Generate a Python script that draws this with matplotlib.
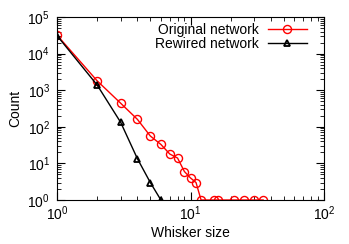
import matplotlib
matplotlib.use('Agg')
import matplotlib.pyplot as plt
from matplotlib.ticker import LogLocator, LogFormatterMathtext, NullFormatter

plt.rcParams['font.family'] = ['Liberation Sans', 'DejaVu Sans']
plt.rcParams['mathtext.fontset'] = 'custom'
plt.rcParams['mathtext.rm'] = 'Liberation Sans'
plt.rcParams['mathtext.it'] = 'Liberation Sans'

# whisker size -> count
orig_x = [1, 2, 3, 4, 5, 6, 7, 8, 9, 10, 11, 12, 15, 16, 21, 25, 30, 35]
orig_y = [32000, 1800, 440, 160, 56, 33, 18, 14, 6, 4, 3, 1, 1, 1, 1, 1, 1, 1]
rew_x = [1, 2, 3, 4, 5, 6]
rew_y = [31000, 1380, 132, 13.5, 3, 1]

fig = plt.figure(figsize=(3.49, 2.44), dpi=100)
ax = fig.add_axes([57/349, 44/244, 267/349, 183/244])

ax.plot(orig_x, orig_y, color='red', lw=1, marker='o', ms=5.8, mfc='none',
        mec='red', mew=1, label='Original network')
ax.plot(rew_x, rew_y, color='black', lw=1, marker='^', ms=5, mfc='none',
        mec='black', mew=1.3, label='Rewired network')

ax.set_xscale('log')
ax.set_yscale('log')
ax.set_xlim(1, 100)
ax.set_ylim(1, 1e5)
ax.xaxis.set_major_formatter(LogFormatterMathtext())
ax.yaxis.set_major_formatter(LogFormatterMathtext())
ax.yaxis.set_major_locator(LogLocator(base=10, numticks=10))
ax.yaxis.set_minor_locator(LogLocator(base=10, subs=range(2, 10), numticks=10))
ax.yaxis.set_minor_formatter(NullFormatter())
ax.tick_params(which='both', direction='in', top=True, right=True, labelsize=10)
ax.tick_params(which='major', length=6)
ax.tick_params(which='minor', length=3)
ax.tick_params(axis='x', which='major', pad=3)
ax.tick_params(axis='y', which='major', pad=5)

ax.set_xlabel('Whisker size', fontsize=10, labelpad=2)
ax.set_ylabel('Count', fontsize=10, labelpad=4)

ax.legend(loc='upper right', frameon=False, markerfirst=False, fontsize=10,
          handlelength=2.8, labelspacing=0.0, borderaxespad=0.0,
          borderpad=0.1, handletextpad=0.6,
          bbox_to_anchor=(0.94, 0.975))

fig.savefig('out.png', dpi=100)
